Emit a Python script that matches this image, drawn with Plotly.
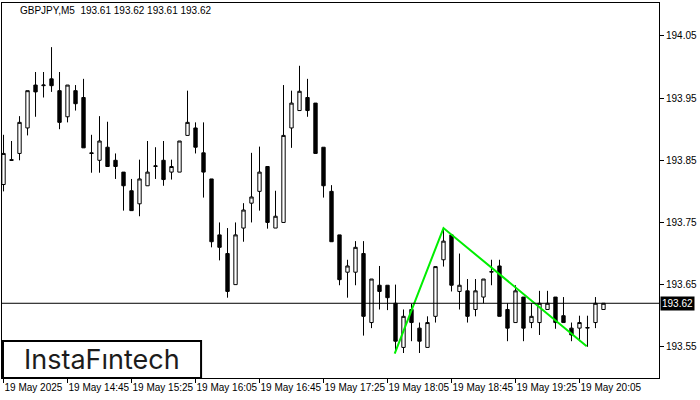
import plotly.graph_objects as go

# ---- data (GBPJPY M5, 19 May 2025, 14:05 .. 20:20) ----
opens = [193.811, 193.851, 193.861, 193.902, 193.971, 193.970, 193.981, 193.962, 193.920, 193.962,
         193.951, 193.862, 193.850, 193.871, 193.850, 193.831, 193.801, 193.780, 193.809, 193.840,
         193.850, 193.831, 193.831, 193.890, 193.902, 193.862, 193.820, 193.730, 193.700, 193.650,
         193.741, 193.781, 193.800, 193.840, 193.741, 193.750, 193.902, 193.930, 193.951, 193.942,
         193.871, 193.800, 193.730, 193.670, 193.670, 193.700, 193.589, 193.649, 193.649, 193.620,
         193.549, 193.610, 193.580, 193.549, 193.599, 193.690, 193.730, 193.639, 193.640, 193.610,
         193.630, 193.670, 193.680, 193.610, 193.589, 193.630, 193.589, 193.589, 193.610, 193.630,
         193.600, 193.580, 193.580, 193.580, 193.589, 193.610]
highs = [193.891, 193.881, 193.921, 193.962, 193.992, 193.992, 194.032, 193.992, 193.971, 193.971,
         193.981, 193.891, 193.921, 193.912, 193.861, 193.831, 193.820, 193.851, 193.881, 193.871,
         193.881, 193.851, 193.881, 193.962, 193.911, 193.911, 193.820, 193.750, 193.741, 193.750,
         193.781, 193.862, 193.872, 193.840, 193.801, 193.971, 193.962, 194.002, 193.981, 193.942,
         193.871, 193.810, 193.730, 193.690, 193.720, 193.720, 193.659, 193.680, 193.649, 193.650,
         193.610, 193.619, 193.589, 193.599, 193.679, 193.741, 193.730, 193.700, 193.659, 193.659,
         193.659, 193.690, 193.690, 193.620, 193.649, 193.630, 193.620, 193.640, 193.640, 193.630,
         193.630, 193.589, 193.600, 193.600, 193.630, 193.620]
lows = [193.800, 193.850, 193.850, 193.890, 193.920, 193.951, 193.960, 193.900, 193.911, 193.930,
        193.870, 193.830, 193.830, 193.840, 193.820, 193.769, 193.769, 193.760, 193.809, 193.820,
        193.809, 193.819, 193.831, 193.890, 193.861, 193.790, 193.710, 193.689, 193.629, 193.650,
        193.719, 193.750, 193.769, 193.740, 193.741, 193.750, 193.870, 193.930, 193.920, 193.861,
        193.790, 193.719, 193.649, 193.629, 193.649, 193.568, 193.580, 193.610, 193.609, 193.540,
        193.540, 193.559, 193.540, 193.549, 193.589, 193.679, 193.639, 193.610, 193.589, 193.599,
        193.620, 193.649, 193.599, 193.559, 193.589, 193.559, 193.580, 193.569, 193.610, 193.579,
        193.589, 193.559, 193.559, 193.550, 193.580, 193.610]
closes = [193.861, 193.850, 193.911, 193.962, 193.960, 193.971, 193.970, 193.911, 193.971, 193.941,
          193.870, 193.861, 193.881, 193.840, 193.840, 193.809, 193.769, 193.820, 193.831, 193.841,
          193.819, 193.840, 193.881, 193.911, 193.871, 193.831, 193.719, 193.710, 193.639, 193.730,
          193.770, 193.791, 193.831, 193.750, 193.760, 193.890, 193.942, 193.961, 193.930, 193.861,
          193.809, 193.719, 193.658, 193.680, 193.710, 193.599, 193.659, 193.639, 193.629, 193.559,
          193.599, 193.589, 193.559, 193.589, 193.679, 193.720, 193.649, 193.649, 193.599, 193.640,
          193.659, 193.671, 193.599, 193.580, 193.640, 193.580, 193.599, 193.620, 193.620, 193.589,
          193.589, 193.569, 193.589, 193.581, 193.620, 193.620]
bar_index = list(range(len(opens)))

tick_index = [0, 8, 16, 24, 32, 40, 48, 56, 64, 72]
tick_labels = ["19 May 2025", "19 May 14:45", "19 May 15:25", "19 May 16:05", "19 May 16:45",
               "19 May 17:25", "19 May 18:05", "19 May 18:45", "19 May 19:25", "19 May 20:05"]
price_ticks = [193.55, 193.65, 193.75, 193.85, 193.95, 194.05]

pattern_index = [48.9, 55.0, 72.9]
pattern_price = [193.539, 193.741, 193.551]

last_price = 193.62
title_text = "GBPJPY,M5  193.61 193.62 193.61 193.62"

# ---- figure ----
fig = go.Figure()
fig.add_trace(go.Candlestick(
    x=bar_index, open=opens, high=highs, low=lows, close=closes,
    increasing=dict(line=dict(color="black", width=1), fillcolor="white"),
    decreasing=dict(line=dict(color="black", width=1), fillcolor="black"),
    whiskerwidth=0, showlegend=False, hoverinfo="skip",
))
fig.add_trace(go.Scatter(
    x=pattern_index, y=pattern_price, mode="lines",
    line=dict(color="#00ee00", width=2), showlegend=False, hoverinfo="skip",
))

fig.add_shape(type="line", xref="paper", yref="y", x0=0, x1=1,
              y0=last_price, y1=last_price, line=dict(color="black", width=1))

# logo box
fig.add_shape(type="rect", xref="paper", yref="paper", x0=0.0015, x1=0.303, y0=0.0, y1=0.099,
              line=dict(color="black", width=2), fillcolor="white", layer="above")
fig.add_annotation(xref="paper", yref="paper", x=0.1515, y=0.049, text="InstaFıntech",
                   showarrow=False, xanchor="center", yanchor="middle",
                   font=dict(family="Inter", size=27, color="#1c1c1c"))

fig.add_annotation(xref="paper", yref="paper", x=0.024, y=0.981, text=title_text,
                   showarrow=False, xanchor="left", yanchor="middle",
                   font=dict(family="Liberation Sans", size=10, color="black"))

fig.add_annotation(xref="paper", yref="y", x=1, y=last_price, text=str(last_price),
                   showarrow=False, xanchor="left", yanchor="middle", xshift=1,
                   bgcolor="black", borderpad=1,
                   font=dict(family="Liberation Sans", size=10, color="white"))

fig.update_layout(
    width=700, height=400,
    margin=dict(l=2, r=41, t=3, b=22, autoexpand=False),
    paper_bgcolor="white", plot_bgcolor="white",
    boxgap=0.4,
    font=dict(family="Liberation Sans", size=10, color="black"),
    xaxis=dict(
        range=[-0.19, 81.94], rangeslider=dict(visible=False),
        tickmode="array", tickvals=tick_index, ticktext=tick_labels,
        tickangle=0, automargin=False,
        ticks="outside", ticklen=4, tickcolor="black", tickwidth=1,
        ticklabelposition="outside right",
        showgrid=False, zeroline=False,
        showline=True, linecolor="black", linewidth=1, mirror=True,
        tickfont=dict(family="Liberation Sans", size=10, color="black"),
    ),
    yaxis=dict(
        range=[193.4998, 194.103], side="right", automargin=False,
        tickmode="array", tickvals=price_ticks,
        ticktext=[f"{v:.2f}" for v in price_ticks],
        ticks="outside", ticklen=4, tickcolor="black", tickwidth=1,
        showgrid=False, zeroline=False,
        showline=True, linecolor="black", linewidth=1, mirror=True,
        tickfont=dict(family="Liberation Sans", size=10, color="black"),
    ),
)

fig.write_html("out.html", config={"displayModeBar": False},
               post_script="document.body.style.margin='0';")
